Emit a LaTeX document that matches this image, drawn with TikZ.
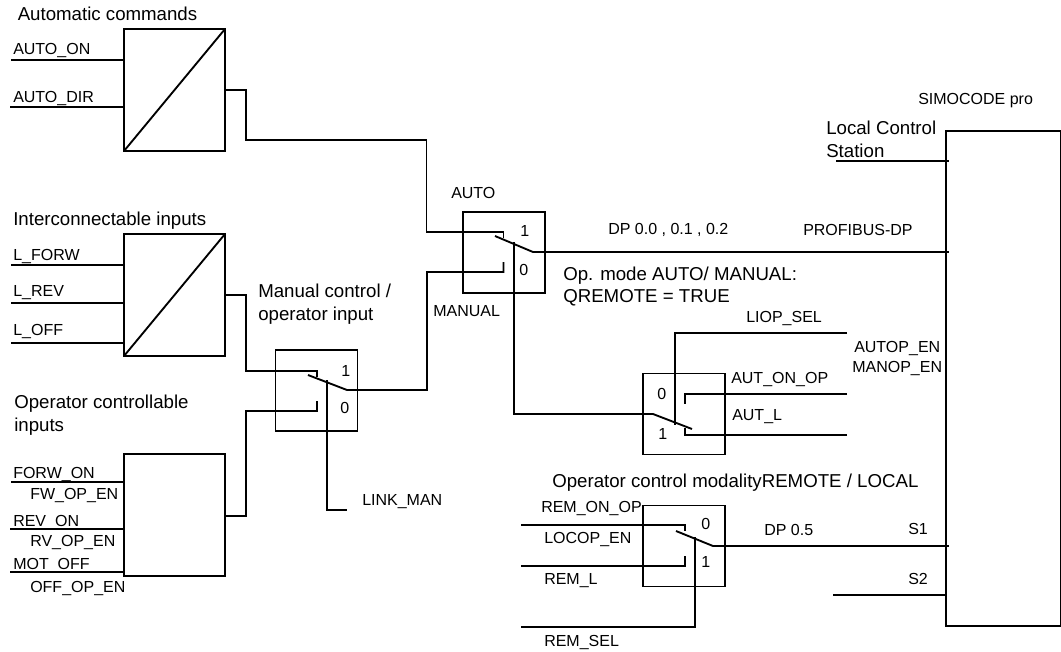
\documentclass[tikz,border=0pt]{standalone}
\usepackage{fontspec}
\setmainfont{Liberation Sans}
\tikzset{
	blockbox/.style={draw,line width=1.6pt,outer sep=0pt,minimum width=75.75pt,minimum height=91.5pt},
	switchbox/.style={draw,line width=1.3pt,outer sep=0pt,minimum width=61.5pt,minimum height=60.75pt},
	wire/.style={line width=1.4pt},
	lab/.style={anchor=base west,inner sep=0pt,font=\fontsize{12}{14}\selectfont},
	biglab/.style={anchor=base west,inner sep=0pt,font=\fontsize{14}{16}\selectfont}
}
\begin{document}
\begin{tikzpicture}[x=0.75pt,y=-0.75pt]
	\useasboundingbox (0,0) rectangle (1061,651);
	% blocks
	\node[blockbox] (autoBlock) at (174.5,90) {};
	\node[blockbox] (linkBlock) at (174.5,295) {};
	\node[blockbox] (opBlock) at (174.5,515) {};
	\draw[wire] (autoBlock.south west) -- (autoBlock.north east);
	\draw[wire] (linkBlock.south west) -- (linkBlock.north east);
	\node[switchbox] (manSwitch) at (316.5,390.5) {};
	\node[switchbox] (autoSwitch) at (504,252.5) {};
	\node[switchbox] (aopSwitch) at (684,414) {};
	\node[switchbox] (remSwitch) at (684,546) {};
	\node[draw,line width=1.4pt,outer sep=0pt,minimum width=85.9pt,minimum height=371.25pt] (simocode) at (1003.25,378.5) {};
	% inputs
	\coordinate (inAutoOn) at (11,60);
	\coordinate (inAutoDir) at (10,107);
	\coordinate (inForw) at (11,265);
	\coordinate (inRev) at (11,303);
	\coordinate (inOff) at (11,343);
	\coordinate (inForwOn) at (11,482);
	\coordinate (inRevOn) at (10,529);
	\coordinate (inMotOff) at (10,572);
	\foreach \w/\b in {inAutoOn/autoBlock,inAutoDir/autoBlock,inForw/linkBlock,inRev/linkBlock,inOff/linkBlock,inForwOn/opBlock,inRevOn/opBlock,inMotOff/opBlock}
		\draw[wire] (\w) -- (\w -| \b.west);
	% manual switch
	\coordinate (manOne) at (317,371);
	\coordinate (manOneTip) at (317,377);
	\coordinate (manZero) at (317,411);
	\coordinate (manZeroTip) at (317,401);
	\coordinate (manLevA) at (308,375);
	\coordinate (manLevB) at (347,390);
	\coordinate (manCtl) at (327,380);
	\coordinate (manCtlEnd) at (347,510);
	% auto switch
	\coordinate (autoOne) at (503.5,232);
	\coordinate (autoOneTip) at (503.5,238);
	\coordinate (autoZero) at (503.5,272);
	\coordinate (autoZeroTip) at (503.5,262);
	\coordinate (autoLevA) at (495,236);
	\coordinate (autoLevB) at (533,252);
	\coordinate (autoCtl) at (514,242);
	% operator enable switch
	\coordinate (aopZero) at (685,394);
	\coordinate (aopZeroTip) at (685,404);
	\coordinate (aopOne) at (685,435);
	\coordinate (aopOneTip) at (685,428);
	\coordinate (aopLevA) at (653,414);
	\coordinate (aopLevB) at (692,429);
	\coordinate (aopCtl) at (675,425);
	\coordinate (aopCtlEnd) at (847,333);
	\coordinate (aopZeroEnd) at (847,394);
	\coordinate (aopOneEnd) at (847,435);
	% remote switch
	\coordinate (remZero) at (685,525);
	\coordinate (remZeroTip) at (685,531);
	\coordinate (remOne) at (685,566);
	\coordinate (remOneTip) at (685,556);
	\coordinate (remLevA) at (676,531);
	\coordinate (remLevB) at (713,546);
	\coordinate (remCtl) at (695,537);
	\coordinate (remZeroIn) at (521,525);
	\coordinate (remOneIn) at (521,566);
	\coordinate (remCtlIn) at (521,627);
	% bends
	\coordinate (autoOut) at (225,90);
	\coordinate (autoBendA) at (246,140);
	\coordinate (autoBendB) at (426.5,140);
	\coordinate (opOut) at (225,516);
	% connections
	\draw[wire] (autoOut) -| (autoBendA) -- (autoBendB) |- (autoOne) -- (autoOneTip);
	\draw[wire] (linkBlock.east) -- (246,295) |- (manOne) -- (manOneTip);
	\draw[wire] (opOut) -- (246,516) |- (manZero) -- (manZeroTip);
	\draw[wire] (manLevA) -- (manLevB) -- (427,390) |- (autoZero) -- (autoZeroTip);
	\draw[wire] (manCtl) |- (manCtlEnd);
	\draw[wire] (autoLevA) -- (autoLevB) -- (autoLevB -| simocode.west) -- +(3,0);
	\draw[wire] (autoCtl) |- (aopLevA) -- (aopLevB);
	\draw[wire] (aopCtlEnd) -| (aopCtl);
	\draw[wire] (aopZeroEnd) -- (aopZero) -- (aopZeroTip);
	\draw[wire] (aopOneEnd) -- (aopOne) -- (aopOneTip);
	\draw[wire] (remZeroIn) -- (remZero) -- (remZeroTip);
	\draw[wire] (remOneIn) -- (remOne) -- (remOneTip);
	\draw[wire] (remLevA) -- (remLevB) -- (remLevB -| simocode.west) -- +(3,0);
	\draw[wire] (remCtl) |- (remCtlIn);
	\coordinate (localIn) at (836,161);
	\coordinate (s2In) at (833,595);
	\draw[wire] (localIn) -- (localIn -| simocode.west) -- +(3,0);
	\draw[wire] (s2In) -- (s2In -| simocode.west);
	% labels
	\node[biglab] (lblAutoCmd) at (17.5,20) {Automatic commands};
	\node[lab] (lblAutoOn) at (13,54) {AUTO\_ON};
	\node[lab] (lblAutoDir) at (13,102) {AUTO\_DIR};
	\node[biglab] (lblLink) at (13,225) {Interconnectable inputs};
	\node[lab] (lblForw) at (13,260) {L\_FORW};
	\node[lab] (lblRev) at (13,296) {L\_REV};
	\node[lab] (lblOff) at (13,335) {L\_OFF};
	\node[biglab] (lblManA) at (258,297) {Manual control /};
	\node[biglab] (lblManB) at (258,320) {operator input};
	\node[biglab] (lblOpA) at (14,408) {Operator controllable};
	\node[biglab] (lblOpB) at (14,431) {inputs};
	\node[lab] (lblForwOn) at (13,478) {FORW\_ON};
	\node[lab] (lblFwEn) at (30,499) {FW\_OP\_EN};
	\node[lab] (lblRevOn) at (13,526) {REV\_ON};
	\node[lab] (lblRvEn) at (30,546) {RV\_OP\_EN};
	\node[lab] (lblMotOff) at (13,569) {MOT\_OFF};
	\node[lab] (lblOffEn) at (30,592) {OFF\_OP\_EN};
	\node[lab] (lblManOne) at (341,376) {1};
	\node[lab] (lblManZero) at (340,413) {0};
	\node[lab] (lblLinkMan) at (362,505) {LINK\_MAN};
	\node[lab] (lblAuto) at (451,198) {AUTO};
	\node[lab] (lblManual) at (433,316) {MANUAL};
	\node[lab] (lblAutoOne) at (520,236) {1};
	\node[lab] (lblAutoZero) at (519,275) {0};
	\node[lab] (lblDpA) at (608,234) {DP 0.0 , 0.1 , 0.2};
	\node[biglab] (lblModeA) at (563,280) {Op. mode AUTO/ MANUAL:};
	\node[biglab] (lblModeB) at (563,302) {QREMOTE = TRUE};
	\node[lab] (lblProfibus) at (803,235) {PROFIBUS-DP};
	\node[lab] (lblSimocode) at (918,104) {SIMOCODE pro};
	\node[biglab] (lblLocalA) at (826,134) {Local Control};
	\node[biglab] (lblLocalB) at (826,157) {Station};
	\node[lab] (lblLiop) at (746,322) {LIOP\_SEL};
	\node[lab] (lblAutop) at (854,352) {AUTOP\_EN};
	\node[lab] (lblManop) at (852,372) {MANOP\_EN};
	\node[lab] (lblAutOn) at (731,383) {AUT\_ON\_OP};
	\node[lab] (lblAutL) at (732,420) {AUT\_L};
	\node[lab] (lblAopZero) at (657,399) {0};
	\node[lab] (lblAopOne) at (658,439) {1};
	\node[biglab] (lblRemote) at (552,487) {Operator control modalityREMOTE / LOCAL};
	\node[lab] (lblRemOn) at (541,512) {REM\_ON\_OP};
	\node[lab] (lblLocop) at (544,543) {LOCOP\_EN};
	\node[lab] (lblRemL) at (544,584) {REM\_L};
	\node[lab] (lblRemSel) at (544,646) {REM\_SEL};
	\node[lab] (lblRemZero) at (701,529) {0};
	\node[lab] (lblRemOne) at (701,567) {1};
	\node[lab] (lblDpB) at (764,535) {DP 0.5};
	\node[lab] (lblSone) at (908,534) {S1};
	\node[lab] (lblStwo) at (908,584) {S2};
\end{tikzpicture}
\end{document}
